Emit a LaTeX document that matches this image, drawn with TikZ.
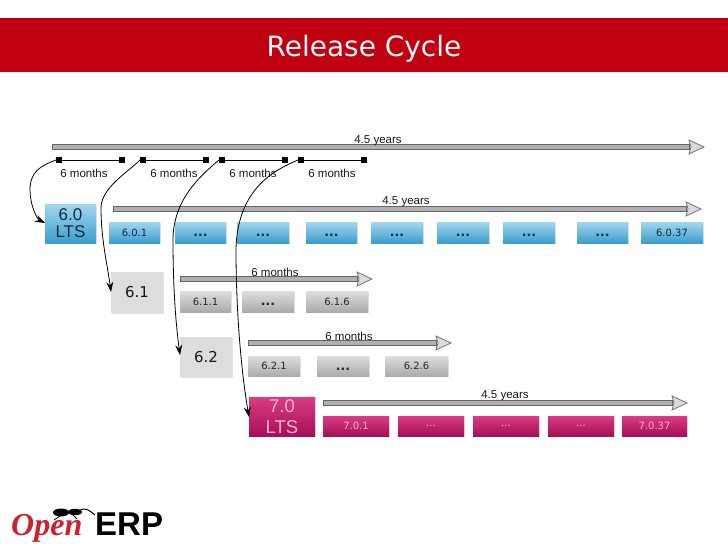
\documentclass[tikz,border=0pt]{standalone}
\usepackage{fontspec}
\setmainfont{Liberation Sans}
\newfontfamily\dejavu{DejaVu Sans}
\newfontfamily\logoserif{Liberation Serif}
\usetikzlibrary{shadows,arrows.meta}
\definecolor{barred}{HTML}{C00010}
\definecolor{bluetop}{HTML}{A3D6F0}
\definecolor{bluebot}{HTML}{3A9FCB}
\definecolor{graytop}{HTML}{DEDEDE}
\definecolor{graybot}{HTML}{ABABAB}
\definecolor{bigray}{HTML}{DDDDDD}
\definecolor{magtop}{HTML}{D93C83}
\definecolor{magbot}{HTML}{A70F58}
\definecolor{pinktxt}{HTML}{F6B4D3}
\definecolor{inkblue}{HTML}{0B2A40}
\definecolor{logored}{HTML}{D0202E}
\definecolor{shaftline}{HTML}{666666}
\definecolor{shaftfill}{HTML}{B0B0B0}
\definecolor{headfill}{HTML}{DADADA}
\tikzset{
  x=1pt,y=-1pt,
  boxbase/.style={inner sep=0pt,outer sep=0pt,align=center,
    drop shadow={opacity=.22,shadow xshift=1pt,shadow yshift=-1pt}},
  bluebox/.style={boxbase,top color=bluetop,bottom color=bluebot,text=inkblue},
  graybox/.style={boxbase,top color=graytop,bottom color=graybot,text=black!85},
  bigbox/.style={boxbase,fill=bigray,text=black!90},
  magbox/.style={boxbase,top color=magtop,bottom color=magbot,text=pinktxt},
  minor/.style={font=\dejavu\fontsize{10}{12}\selectfont},
  dots/.style={font=\dejavu\bfseries\fontsize{12.5}{14}\selectfont,text height=8pt,text depth=0pt},
  tick/.style={fill=black,inner sep=0pt,outer sep=0pt,minimum size=6pt},
  span/.style={line width=.9pt,black},
  flow/.style={line width=.8pt,black,-{Stealth[length=10pt,width=7pt]}},
  timelabel/.style={font=\fontsize{11.5}{13}\selectfont,text=black!90,inner sep=0pt},
  shaft/.style={draw=shaftline,fill=shaftfill,line width=.9pt},
  head/.style={draw=shaftline!90,fill=headfill,line width=.8pt,line join=miter},
}
% name, x1, y1, x2, y2, style, text
\newcommand{\relbox}[7]{%
  \pgfmathsetmacro{\bw}{#4-#2}\pgfmathsetmacro{\bh}{#5-#3}%
  \pgfmathsetmacro{\cx}{(#2+#4)/2}\pgfmathsetmacro{\cy}{(#3+#5)/2}%
  \node[#6,minimum width=\bw pt,minimum height=\bh pt] (#1) at (\cx,\cy) {#7};}
% x1, x2, y
\newcommand{\spanarrow}[3]{%
  \pgfmathsetmacro{\hb}{#2-15}%
  \draw[shaft] (#1,#3-2.2) -- (\hb,#3-2.2) -- (\hb,#3+2.2) -- (#1,#3+2.2) -- cycle;
  \draw[head] (\hb,#3-7) -- (#2,#3) -- (\hb,#3+7) -- (\hb+2,#3) -- cycle;}
\begin{document}
\begin{tikzpicture}
\useasboundingbox (0,0) rectangle (728,546);
\fill[white] (0,0) rectangle (728,546);
\fill[barred] (0,18) rectangle (728,72);
\node[font=\dejavu\fontsize{28}{30}\selectfont,text=white!95!gray,inner sep=0pt] (title) at (364,49) {Release Cycle};

% overall timeline
\spanarrow{52}{704}{147}
\node[timelabel] (l0) at (378,140.5) {4.5 years};
\node[tick] (s1) at (59,160) {};
\node[tick] (s2) at (122,160) {};
\node[tick] (s3) at (143,160) {};
\node[tick] (s4) at (206,160) {};
\node[tick] (s5) at (222,160) {};
\node[tick] (s6) at (285,160) {};
\node[tick] (s7) at (301,160) {};
\node[tick] (s8) at (364,160) {};
\draw[span] (s1) -- (s2);
\draw[span] (s3) -- (s4);
\draw[span] (s5) -- (s6);
\draw[span] (s7) -- (s8);
\node[timelabel] (m1) at (84,173.5) {6 months};
\node[timelabel] (m2) at (174,173.5) {6 months};
\node[timelabel] (m3) at (253,173.5) {6 months};
\node[timelabel] (m4) at (332,173.5) {6 months};

% 6.0
\relbox{b60}{45}{204}{96}{243}{bluebox,font=\fontsize{17}{17}\selectfont}{6.0\\LTS}
\spanarrow{113}{701}{209}
\node[timelabel] (l60) at (406,202) {4.5 years};
\relbox{a1}{109}{222}{160}{243}{bluebox,minor}{6.0.1}
\relbox{a2}{175}{222}{226}{243}{bluebox,dots}{...}
\relbox{a3}{237}{222}{289}{243}{bluebox,dots}{...}
\relbox{a4}{306}{222}{357}{243}{bluebox,dots}{...}
\relbox{a5}{371}{222}{423}{243}{bluebox,dots}{...}
\relbox{a6}{437}{222}{489}{243}{bluebox,dots}{...}
\relbox{a7}{503}{222}{555}{243}{bluebox,dots}{...}
\relbox{a8}{577}{222}{628}{243}{bluebox,dots}{...}
\relbox{a9}{641}{222}{703}{243}{bluebox,minor}{6.0.37}

% 6.1
\relbox{b61}{111}{272}{163}{313}{bigbox,font=\dejavu\fontsize{15}{16}\selectfont}{6.1}
\spanarrow{180}{372}{279}
\node[timelabel] (l61) at (275,272) {6 months};
\relbox{c1}{180}{291}{231}{312}{graybox,minor}{6.1.1}
\relbox{c2}{242}{291}{294}{312}{graybox,dots}{...}
\relbox{c3}{306}{291}{368}{312}{graybox,minor}{6.1.6}

% 6.2
\relbox{b62}{180}{337}{232}{377}{bigbox,font=\dejavu\fontsize{15}{16}\selectfont}{6.2}
\spanarrow{248}{451}{343}
\node[timelabel] (l62) at (349,336) {6 months};
\relbox{d1}{248}{356}{300}{376}{graybox,minor}{6.2.1}
\relbox{d2}{317}{356}{369}{376}{graybox,dots}{...}
\relbox{d3}{385}{356}{448}{376}{graybox,minor}{6.2.6}

% 7.0
\relbox{b70}{249}{397}{315}{436}{magbox,font=\fontsize{18.5}{21}\selectfont}{7.0\\LTS}
\spanarrow{323}{687}{403}
\node[timelabel] (l70) at (505,396) {4.5 years};
\relbox{e1}{323}{416}{389}{436}{magbox,minor}{7.0.1}
\relbox{e2}{398}{416}{464}{436}{magbox,minor}{...}
\relbox{e3}{473}{416}{539}{436}{magbox,minor}{...}
\relbox{e4}{548}{416}{614}{436}{magbox,minor}{...}
\relbox{e5}{622}{416}{687}{436}{magbox,minor}{7.0.37}

% release connectors
\draw[flow] (s1.west) .. controls (40,166) and (30,172) .. (30,190) .. controls (30,205) and (37,219) .. (b60.west |- 0,223);
\draw[flow] (s3.west) .. controls (128,172) and (101,188) .. (101,208) .. controls (101,240) and (108,268) .. (b61.west |- 0,292);
\draw[flow] (s5.west) .. controls (200,176) and (173,200) .. (173,240) .. controls (173,290) and (176,325) .. (b62.west |- 0,355);
\draw[flow] (s7.west) .. controls (280,168) and (237,185) .. (236,250) .. controls (236,310) and (241,370) .. (b70.west |- 0,417);

% logo
\node[font=\logoserif\bfseries\itshape\fontsize{32}{34}\selectfont,text=logored,inner sep=0pt,anchor=base west] (open) at (11,535) {Open};
\node[font=\bfseries\fontsize{33}{35}\selectfont,text=black,inner sep=0pt,anchor=base west] (erp) at (95,535) {ERP};
\fill[black] (61,512.5) ellipse (8 and 4);
\fill[black] (75,512) ellipse (7 and 3.2);
\draw[black,line width=1pt] (80,510) .. controls (86,507.5) and (89,510) .. (95,515);
\draw[black,line width=.8pt] (60,516) -- (54,520);
\draw[black,line width=.8pt] (72,514) -- (77,519);
\end{tikzpicture}
\end{document}
